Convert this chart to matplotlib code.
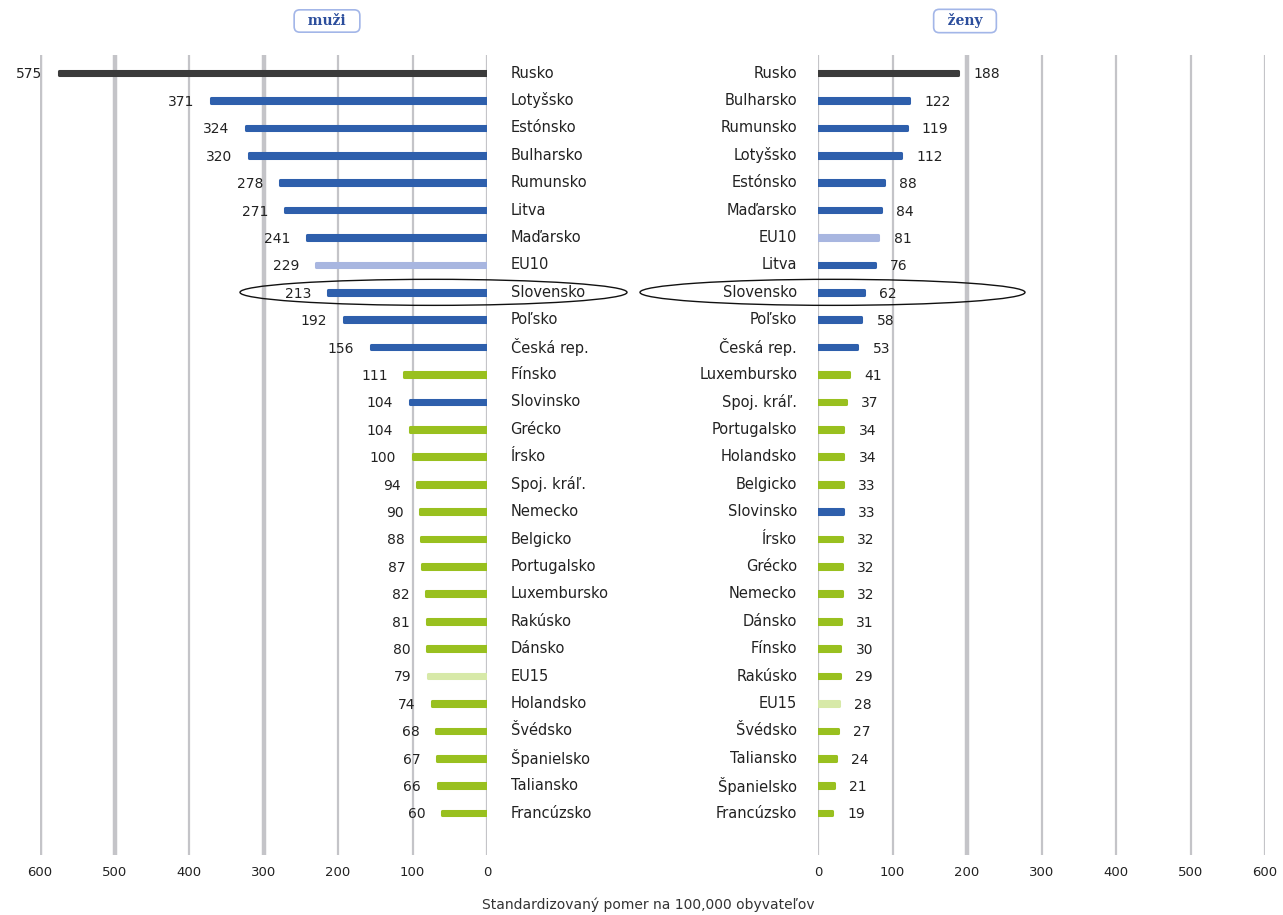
import matplotlib
matplotlib.use("Agg")
import matplotlib.pyplot as plt
import matplotlib.transforms as mtransforms
from matplotlib.patches import Ellipse

# ---------------- data ----------------
men_countries = ["Rusko", "Lotyšsko", "Estónsko", "Bulharsko", "Rumunsko", "Litva",
                 "Maďarsko", "EU10", "Slovensko", "Poľsko", "Česká rep.", "Fínsko",
                 "Slovinsko", "Grécko", "Írsko", "Spoj. kráľ.", "Nemecko", "Belgicko",
                 "Portugalsko", "Luxembursko", "Rakúsko", "Dánsko", "EU15", "Holandsko",
                 "Švédsko", "Španielsko", "Taliansko", "Francúzsko"]
men_values = [575, 371, 324, 320, 278, 271, 241, 229, 213, 192, 156, 111, 104, 104,
              100, 94, 90, 88, 87, 82, 81, 80, 79, 74, 68, 67, 66, 60]
men_groups = ["ru", "b", "b", "b", "b", "b", "b", "eu10", "b", "b", "b", "g",
              "b", "g", "g", "g", "g", "g", "g", "g", "g", "g", "eu15", "g",
              "g", "g", "g", "g"]

women_countries = ["Rusko", "Bulharsko", "Rumunsko", "Lotyšsko", "Estónsko", "Maďarsko",
                   "EU10", "Litva", "Slovensko", "Poľsko", "Česká rep.", "Luxembursko",
                   "Spoj. kráľ.", "Portugalsko", "Holandsko", "Belgicko", "Slovinsko",
                   "Írsko", "Grécko", "Nemecko", "Dánsko", "Fínsko", "Rakúsko", "EU15",
                   "Švédsko", "Taliansko", "Španielsko", "Francúzsko"]
women_values = [188, 122, 119, 112, 88, 84, 81, 76, 62, 58, 53, 41, 37, 34, 34, 33,
                33, 32, 32, 32, 31, 30, 29, 28, 27, 24, 21, 19]
women_groups = ["ru", "b", "b", "b", "b", "b", "eu10", "b", "b", "b", "b", "g",
                "g", "g", "g", "g", "b", "g", "g", "g", "g", "g", "g", "eu15",
                "g", "g", "g", "g"]

ticks = [0, 100, 200, 300, 400, 500, 600]
highlight = "Slovensko"
xlabel = "Standardizovaný pomer na 100,000 obyvateľov"

colors = {"ru": "#3b3b3b", "b": "#2e5fac", "eu10": "#a8b6e0",
          "g": "#99c01f", "eu15": "#d7e9a8"}

# ---------------- figure ----------------
fig = plt.figure(figsize=(12.83, 9.15), dpi=100)
W, H = 1283, 915

def ax_rect(x0, x1, y0, y1):
    return [x0 / W, 1 - y1 / H, (x1 - x0) / W, (y1 - y0) / H]

axL = fig.add_axes(ax_rect(40, 487, 55, 855))
axR = fig.add_axes(ax_rect(818, 1265, 55, 855))

n = len(men_countries)
ylim = (n - 1 + 1.53, -0.66)
txt_col = "#222222"

thickL = {600: 3.2, 500: 3.2, 300: 3.2}
thickR = {200: 3.2}

for ax, countries, values, groups, side, thick in [
        (axL, men_countries, men_values, men_groups, "L", thickL),
        (axR, women_countries, women_values, women_groups, "R", thickR)]:
    ys = list(range(len(countries)))
    for t in ticks:
        ax.axvline(t, color="#c4c4c8", lw=thick.get(t, 1.6), zorder=0)
    cols = [colors[g] for g in groups]
    bars = ax.barh(ys, values, height=0.17, color=cols, edgecolor=cols,
                   linewidth=2.2, zorder=2)
    for b in bars:
        b.set_joinstyle("round")
    ax.set_xlim(0, 600)
    if side == "L":
        ax.invert_xaxis()
    ax.set_ylim(*ylim)
    ax.set_yticks([])
    ax.set_xticks(ticks)
    ax.set_xticklabels([str(t) for t in ticks], fontsize=9.5, color=txt_col)
    ax.tick_params(axis="x", length=0, pad=8)
    for s in ax.spines.values():
        s.set_visible(False)
    ax.patch.set_alpha(0)

    for y, c, v in zip(ys, countries, values):
        if side == "L":
            ax.annotate(str(v), xy=(v, y), xytext=(-12, -1), textcoords="offset points",
                        ha="right", va="center", fontsize=10, color=txt_col)
            ax.annotate(c, xy=(1, y), xycoords=("axes fraction", "data"),
                        xytext=(17, 0), textcoords="offset points",
                        ha="left", va="center", fontsize=10.5, color=txt_col)
        else:
            ax.annotate(str(v), xy=(v, y), xytext=(11, -1), textcoords="offset points",
                        ha="left", va="center", fontsize=10, color=txt_col)
            ax.annotate(c, xy=(0, y), xycoords=("axes fraction", "data"),
                        xytext=(-15, 0), textcoords="offset points",
                        ha="right", va="center", fontsize=10.5, color=txt_col)

    # highlight ellipse around Slovensko
    yh = countries.index(highlight)
    tr = mtransforms.blended_transform_factory(fig.transFigure, ax.transData)
    if side == "L":
        cx, w = 433.5 / W, 387 / W
    else:
        cx, w = 832.5 / W, 385 / W
    e = Ellipse((cx, yh), w, 0.95, transform=tr, fill=False, ec="#111111",
                lw=1.0, clip_on=False, zorder=5)
    ax.add_patch(e)

# panel titles
box = dict(boxstyle="round,pad=0.3,rounding_size=0.4", fc="white", ec="#a3b6e8", lw=1.2)
fig.text(327 / W, 1 - 21 / H, "  muži  ", ha="center", va="center", fontsize=10,
         family="DejaVu Serif", weight="bold", color="#2c4e9c", bbox=box)
fig.text(965 / W, 1 - 21 / H, "  ženy  ", ha="center", va="center", fontsize=10,
         family="DejaVu Serif", weight="bold", color="#2c4e9c", bbox=box)

fig.text(648 / W, 1 - 905 / H, xlabel, ha="center", va="center", fontsize=10,
         color="#333333")

fig.savefig("out.png", dpi=100)
